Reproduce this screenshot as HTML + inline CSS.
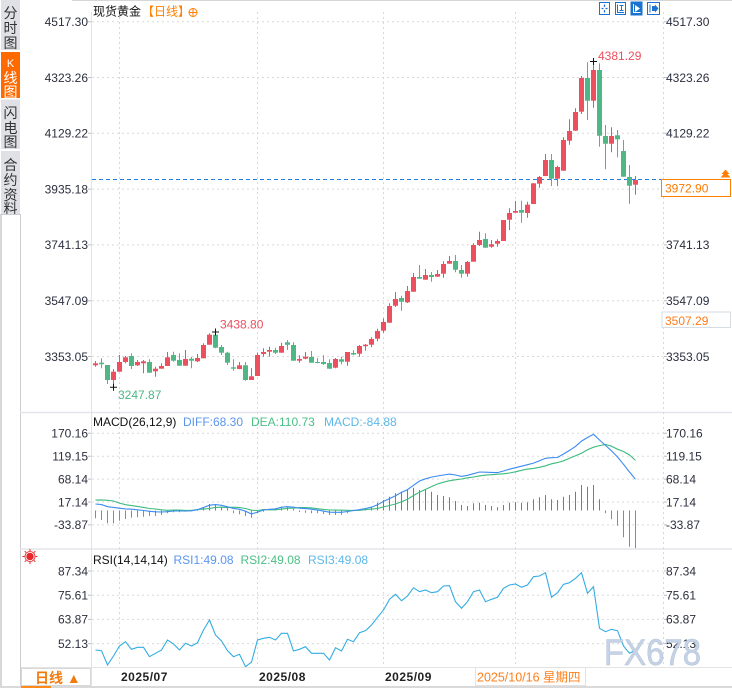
<!DOCTYPE html>
<html><head><meta charset="utf-8"><style>
html,body{margin:0;padding:0;background:#fff;}
body{width:732px;height:688px;overflow:hidden;position:relative;}
svg{position:absolute;left:0;top:0;display:block;}
text{font-family:"Liberation Sans","Noto Sans CJK SC",sans-serif;}
.cj{font-family:"Liberation Sans","Noto Sans CJK SC","WenQuanYi Zen Hei",sans-serif;}
</style></head><body>
<svg width="732" height="688" viewBox="0 0 732 688" xmlns="http://www.w3.org/2000/svg">
<rect x="0" y="0" width="732" height="688" fill="#fff"/>
<line x1="72" y1="0.5" x2="732" y2="0.5" stroke="#d6d6d6"/>
<!-- sidebar -->
<rect x="1" y="0" width="19" height="50" fill="#dfe1e6"/>
<rect x="1" y="52" width="19" height="46" fill="#ff6a00"/>
<rect x="1" y="99.5" width="19" height="49.5" fill="#dfe1e6"/>
<rect x="1" y="151" width="19" height="63" fill="#dfe1e6"/>
<g class="cj" font-size="14" text-anchor="middle" fill="#333">
<text x="10.5" y="18">分</text><text x="10.5" y="33">时</text><text x="10.5" y="48">图</text>
<text x="10.5" y="67" fill="#fff" font-size="11">K</text><text x="10.5" y="83" fill="#fff">线</text><text x="10.5" y="97" fill="#fff">图</text>
<text x="10.5" y="118">闪</text><text x="10.5" y="133">电</text><text x="10.5" y="147">图</text>
<text x="10.5" y="170">合</text><text x="10.5" y="185">约</text><text x="10.5" y="200">资</text><text x="10.5" y="213.5">料</text>
</g>
<rect x="0" y="214" width="2" height="474" fill="#d8d8d8"/>
<line x1="20.5" y1="214" x2="20.5" y2="688" stroke="#cdcdcd"/>
<line x1="0" y1="214.5" x2="21" y2="214.5" stroke="#cdcdcd"/>

<!-- panel separators -->
<line x1="20" y1="412.5" x2="732" y2="412.5" stroke="#e3e6ea" stroke-width="1.5"/>
<line x1="20" y1="549" x2="732" y2="549" stroke="#e3e6ea" stroke-width="1.5"/>

<!-- grid -->
<g stroke="#d9d9d9" stroke-dasharray="2,3" stroke-width="1">
<line x1="92" y1="21.7" x2="663" y2="21.7"/>
<line x1="92" y1="77.5" x2="663" y2="77.5"/>
<line x1="92" y1="133.3" x2="663" y2="133.3"/>
<line x1="92" y1="189.1" x2="663" y2="189.1"/>
<line x1="92" y1="244.9" x2="663" y2="244.9"/>
<line x1="92" y1="300.7" x2="663" y2="300.7"/>
<line x1="92" y1="356.5" x2="663" y2="356.5"/>
<line x1="92" y1="433.3" x2="663" y2="433.3"/>
<line x1="92" y1="456.2" x2="663" y2="456.2"/>
<line x1="92" y1="479.1" x2="663" y2="479.1"/>
<line x1="92" y1="502" x2="663" y2="502"/>
<line x1="92" y1="524.9" x2="663" y2="524.9"/>
<line x1="92" y1="571" x2="663" y2="571"/>
<line x1="92" y1="595.2" x2="663" y2="595.2"/>
<line x1="92" y1="619.4" x2="663" y2="619.4"/>
<line x1="92" y1="643.6" x2="663" y2="643.6"/>
<line x1="119.5" y1="12" x2="119.5" y2="667"/>
<line x1="257.5" y1="12" x2="257.5" y2="667"/>
<line x1="383.5" y1="12" x2="383.5" y2="667"/>
<line x1="515.5" y1="12" x2="515.5" y2="667"/>
<line x1="663.5" y1="12" x2="663.5" y2="667"/>
</g>
<line x1="91.5" y1="12" x2="91.5" y2="688" stroke="#e2e2e2"/>
<g stroke="#bdbdbd">
<path d="M88 21.7H91M88 77.5H91M88 133.3H91M88 189.1H91M88 244.9H91M88 300.7H91M88 356.5H91M88 433.3H91M88 456.2H91M88 479.1H91M88 502H91M88 524.9H91M88 571H91M88 595.2H91M88 619.4H91M88 643.6H91"/>
<path d="M664 21.7H667M664 77.5H667M664 133.3H667M664 244.9H667M664 300.7H667M664 356.5H667M664 433.3H667M664 456.2H667M664 479.1H667M664 502H667M664 524.9H667M664 571H667M664 595.2H667M664 619.4H667M664 643.6H667"/>
</g>

<!-- title -->
<text class="cj" x="93" y="15.5" font-size="12" fill="#111">现货黄金</text>
<text class="cj" x="142" y="15.5" font-size="12" fill="#ff7f00">【日线】</text>
<circle cx="193" cy="12.5" r="4" fill="none" stroke="#ff7f00" stroke-width="1"/>
<path d="M189 12.5H197M193 8.5V16.5" stroke="#ff7f00" stroke-width="1"/>

<!-- top right icons -->
<g stroke="#1a73d0" fill="none" stroke-width="1">
<rect x="599.5" y="2.5" width="10" height="12"/>
<path d="M604.5 4.5V7M604.5 10V12.5M601.5 8.5H603.5M605.5 8.5H607.5" stroke-width="1.2"/>
<rect x="615.5" y="2.5" width="10" height="12"/>
<path d="M617.5 4.5V12.5H624M619.5 5.5H623.5M621.5 5.5V10.5M619.5 10.5H623.5"/>
<rect x="631" y="2" width="11" height="13" fill="#1a73d0"/>
<path d="M633.5 4V12.5H640.5" stroke="#fff"/>
<path d="M635 5L640 8.5L635 12Z" fill="#fff" stroke="none"/>
<rect x="647.5" y="2.5" width="12" height="12"/>
<path d="M650 4.5V12.5"/>
<path d="M652 6H655V4.5L658.5 8.5L655 12.5V11H652Z" fill="#1a73d0" stroke="none"/>
</g>

<!-- left axis labels -->
<g font-size="12" fill="#2c2f3e" text-anchor="end">
<text x="88" y="26">4517.30</text>
<text x="88" y="81.8">4323.26</text>
<text x="88" y="137.6">4129.22</text>
<text x="88" y="193.4">3935.18</text>
<text x="88" y="249.2">3741.13</text>
<text x="88" y="305">3547.09</text>
<text x="88" y="360.8">3353.05</text>
<text x="88" y="437.6">170.16</text>
<text x="88" y="460.5">119.15</text>
<text x="88" y="483.4">68.14</text>
<text x="88" y="506.3">17.14</text>
<text x="88" y="529.2">-33.87</text>
<text x="88" y="575.3">87.34</text>
<text x="88" y="599.5">75.61</text>
<text x="88" y="623.7">63.87</text>
<text x="88" y="647.9">52.13</text>
</g>
<!-- right axis labels -->
<g font-size="12" fill="#2c2f3e">
<text x="666" y="26">4517.30</text>
<text x="666" y="81.8">4323.26</text>
<text x="666" y="137.6">4129.22</text>
<text x="666" y="249.2">3741.13</text>
<text x="666" y="305">3547.09</text>
<text x="666" y="360.8">3353.05</text>
<text x="666" y="437.6">170.16</text>
<text x="666" y="460.5">119.15</text>
<text x="666" y="483.4">68.14</text>
<text x="666" y="506.3">17.14</text>
<text x="666" y="529.2">-33.87</text>
<text x="666" y="575.3">87.34</text>
<text x="666" y="599.5">75.61</text>
<text x="666" y="623.7">63.87</text>
<text x="666" y="647.9">52.13</text>
</g>

<!-- current price line -->
<line x1="92" y1="179.5" x2="662" y2="179.5" stroke="#1f7fe0" stroke-width="1" stroke-dasharray="4,3"/>
<rect x="661.5" y="179.5" width="69" height="17" fill="#fff" stroke="#ff8000"/>
<text x="665" y="192.5" font-size="12" fill="#ff7a00">3972.90</text>
<path d="M720.5 177.5L725.5 172L730.5 177.5Z M721.5 174L725.5 169.5L729.5 174Z" fill="#ff8000"/>
<rect x="662" y="312" width="68.5" height="15.5" fill="#fff" stroke="#d6dce4"/>
<text x="665" y="325" font-size="12" fill="#ff7a1a">3507.29</text>

<!-- candles: wicks -->
<path stroke="#ec4f5e" stroke-width="1" fill="none" d="M95.5 361V366.7M113.5 369V387.3M119.5 355V371.7M125.5 356V363.3M137.5 360V366M143.5 360V373.3M155.5 366.7V376.7M161.5 363.3V368.7M167.5 352V366M185.5 350V365.7M197.5 354V362M203.5 343.3V358.3M209.5 333.3V344.7M239.5 362V369.3M251.5 368.3V380M257.5 352.7V376M263.5 348.3V356.7M269.5 346.7V356.7M281.5 342.7V352.7M299.5 355.3V362.7M305.5 352V359.3M335.5 358V368.3M347.5 352V365.7M359.5 345V356.7M365.5 344V350.7M371.5 337.3V347.3M377.5 328.7V341.3M383.5 318.3V332.7M389.5 303.3V322.7M395.5 292V307M407.5 286V303M413.5 273V291.7M425.5 269V279.7M437.5 270V276.7M443.5 261.3V277.7M449.5 256V263.7M467.5 261V276.7M473.5 243.3V261.7M479.5 231.7V246M491.5 240V247.7M497.5 239.3V246.7M503.5 220V241M509.5 208.3V230M515.5 201V212.7M527.5 201.7V217.7M533.5 183.3V204M539.5 176V187.7M545.5 154V176M557.5 165.7V186M563.5 137.3V170.7M569.5 119.3V144.7M575.5 108.3V130.7M581.5 76V114M593.5 62.3V107.7M611.5 127.3V152.3M635.5 176V194.7"/>
<path stroke="#4fb784" stroke-width="1" fill="none" d="M101.5 358.3V368.3M107.5 365V384M131.5 353.3V369M149.5 359.3V372.7M173.5 351.7V361.7M179.5 353.3V365.7M191.5 356.7V368.3M215.5 332.3V348.3M221.5 345V355M227.5 351.7V365M233.5 359.3V370.7M245.5 362V380.7M275.5 347.7V354M287.5 340V350M293.5 342.3V360.7M311.5 351V362.7M317.5 358V363.3M323.5 355.3V365M329.5 359.3V368.7M341.5 356.7V364.3M353.5 350.3V355.3M401.5 295.7V310.7M419.5 265V278.7M431.5 272V281.7M455.5 255V272.3M461.5 265V277.7M485.5 233.3V247.7M521.5 200.7V222.7M551.5 154V186M587.5 62.3V120M599.5 63.3V146.7M605.5 125V169.3M617.5 130V157.3M623.5 140V176.7M629.5 165V203.7"/>
<!-- candles: bodies -->
<g fill="#ec4f5e">
<rect x="93" y="363.3" width="5" height="2"/>
<rect x="111" y="371.7" width="5" height="8.3"/>
<rect x="117" y="362" width="5" height="9.7"/>
<rect x="123" y="357.3" width="5" height="4.7"/>
<rect x="135" y="362" width="5" height="3.3"/>
<rect x="141" y="361.3" width="5" height="2"/>
<rect x="153" y="368.7" width="5" height="2.6"/>
<rect x="159" y="366" width="5" height="2.7"/>
<rect x="165" y="357.3" width="5" height="8.7"/>
<rect x="183" y="359" width="5" height="6.7"/>
<rect x="195" y="358" width="5" height="3.3"/>
<rect x="201" y="345" width="5" height="13.3"/>
<rect x="207" y="334.7" width="5" height="10"/>
<rect x="237" y="365.3" width="5" height="3.7"/>
<rect x="249" y="376.3" width="5" height="3.7"/>
<rect x="255" y="355" width="5" height="21"/>
<rect x="261" y="352" width="5" height="2"/>
<rect x="267" y="350" width="5" height="1.7"/>
<rect x="279" y="346" width="5" height="6.7"/>
<rect x="297" y="359" width="5" height="1.7"/>
<rect x="303" y="356.7" width="5" height="2"/>
<rect x="333" y="359" width="5" height="8.7"/>
<rect x="345" y="352" width="5" height="9.7"/>
<rect x="357" y="346" width="5" height="7.7"/>
<rect x="363" y="344.7" width="5" height="1.5"/>
<rect x="369" y="339" width="5" height="5.7"/>
<rect x="375" y="331" width="5" height="7.7"/>
<rect x="381" y="322" width="5" height="8.7"/>
<rect x="387" y="306" width="5" height="16.7"/>
<rect x="393" y="299" width="5" height="6.7"/>
<rect x="405" y="291" width="5" height="11.3"/>
<rect x="411" y="277" width="5" height="14.7"/>
<rect x="423" y="275" width="5" height="4.7"/>
<rect x="435" y="274" width="5" height="2.7"/>
<rect x="441" y="264" width="5" height="9.7"/>
<rect x="447" y="261" width="5" height="2.7"/>
<rect x="465" y="262" width="5" height="11.7"/>
<rect x="471" y="245" width="5" height="16.7"/>
<rect x="477" y="240" width="5" height="5"/>
<rect x="489" y="244.3" width="5" height="2.4"/>
<rect x="495" y="241" width="5" height="2.7"/>
<rect x="501" y="220" width="5" height="21"/>
<rect x="507" y="213" width="5" height="6.7"/>
<rect x="513" y="211" width="5" height="1.7"/>
<rect x="525" y="204.7" width="5" height="8.3"/>
<rect x="531" y="183.3" width="5" height="20.7"/>
<rect x="537" y="177" width="5" height="6.7"/>
<rect x="543" y="160" width="5" height="16"/>
<rect x="555" y="167" width="5" height="11.7"/>
<rect x="561" y="140" width="5" height="30.7"/>
<rect x="567" y="131" width="5" height="9.7"/>
<rect x="573" y="112" width="5" height="18.7"/>
<rect x="579" y="78" width="5" height="33.7"/>
<rect x="591" y="70" width="5" height="30.7"/>
<rect x="609" y="136" width="5" height="7.7"/>
<rect x="633" y="180" width="5" height="4.7"/>
</g>
<g fill="#4fb784">
<rect x="99" y="362.7" width="5" height="1.5"/>
<rect x="105" y="365" width="5" height="15"/>
<rect x="129" y="356" width="5" height="10"/>
<rect x="147" y="362" width="5" height="10.7"/>
<rect x="171" y="355" width="5" height="5.7"/>
<rect x="177" y="360" width="5" height="5.7"/>
<rect x="189" y="358.7" width="5" height="2"/>
<rect x="213" y="334.7" width="5" height="13"/>
<rect x="219" y="347" width="5" height="5.7"/>
<rect x="225" y="352.7" width="5" height="10"/>
<rect x="231" y="367.3" width="5" height="1.4"/>
<rect x="243" y="365.3" width="5" height="14.7"/>
<rect x="273" y="350" width="5" height="2.7"/>
<rect x="285" y="342.3" width="5" height="2.5"/>
<rect x="291" y="345" width="5" height="15.7"/>
<rect x="309" y="357" width="5" height="5.7"/>
<rect x="315" y="362" width="5" height="1"/>
<rect x="321" y="362" width="5" height="2"/>
<rect x="327" y="363" width="5" height="5.7"/>
<rect x="339" y="359.3" width="5" height="2.4"/>
<rect x="351" y="353" width="5" height="1.5"/>
<rect x="399" y="298" width="5" height="3.7"/>
<rect x="417" y="277" width="5" height="1.7"/>
<rect x="429" y="275" width="5" height="2"/>
<rect x="453" y="261" width="5" height="8.7"/>
<rect x="459" y="270" width="5" height="3.7"/>
<rect x="483" y="239" width="5" height="8.7"/>
<rect x="519" y="210" width="5" height="2.7"/>
<rect x="549" y="160" width="5" height="18.7"/>
<rect x="585" y="78" width="5" height="22.7"/>
<rect x="597" y="70" width="5" height="65.7"/>
<rect x="603" y="136" width="5" height="7.7"/>
<rect x="615" y="135.3" width="5" height="4"/>
<rect x="621" y="151" width="5" height="25.7"/>
<rect x="627" y="177" width="5" height="8.7"/>
</g>

<!-- high/low markers -->
<path d="M590 61.5H597M593.5 58V65M212 332H219M215.5 328.5V335.5M110 387.3H117M113.5 383.8V390.8" stroke="#111" stroke-width="1"/>
<text x="598" y="60" font-size="12" fill="#ec4f5e">4381.29</text>
<text x="220" y="328.5" font-size="12" fill="#ec4f5e">3438.80</text>
<text x="118" y="399" font-size="12" fill="#4fb784">3247.87</text>

<!-- MACD -->
<text x="93" y="426" font-size="12" fill="#111">MACD(26,12,9)</text>
<text x="183" y="426" font-size="12" fill="#5a95ef">DIFF:68.30</text>
<text x="251" y="426" font-size="12" fill="#4cc086">DEA:110.73</text>
<text x="324" y="426" font-size="12" fill="#5db7ea">MACD:-84.88</text>
<path stroke="#4aad7c" stroke-width="1" fill="none" d="M95.5 510.5V518.3M101.5 510.5V520M107.5 510.5V523.3M113.5 510.5V523.3M119.5 510.5V520.7M125.5 510.5V519M131.5 510.5V517.7M137.5 510.5V517.3M143.5 510.5V516.7M149.5 510.5V516M155.5 510.5V516M161.5 510.5V515M167.5 510.5V513.3M173.5 510.5V512.3M179.5 510.5V512.3M185.5 510.5V511.7M191.5 510.5V511.3M197.5 510.5V511M233.5 510.5V513.3M239.5 510.5V514.3M245.5 510.5V516M251.5 510.5V517.7M257.5 510.5V513.3M263.5 510.5V511.7M299.5 510.5V512M305.5 510.5V512.7M311.5 510.5V513.3M317.5 510.5V513.3M323.5 510.5V514M329.5 510.5V515M335.5 510.5V515M341.5 510.5V514.7M347.5 510.5V513.3M605.5 510.5V513.3M611.5 510.5V519.3M617.5 510.5V525.7M623.5 510.5V537.3M629.5 510.5V546.7M635.5 510.5V548.3"/>
<path stroke="#e24d5b" stroke-width="1" fill="none" d="M203.5 510.5V507.3M209.5 510.5V504M215.5 510.5V505M221.5 510.5V506.7M227.5 510.5V508.3M269.5 510.5V509.3M275.5 510.5V508.3M281.5 510.5V506.7M287.5 510.5V507.3M293.5 510.5V508.7M353.5 510.5V509.6M359.5 510.5V509.3M365.5 510.5V508.3M371.5 510.5V506.7M377.5 510.5V502.7M383.5 510.5V500M389.5 510.5V496.7M395.5 510.5V493.3M401.5 510.5V491.7M407.5 510.5V489.3M413.5 510.5V487.7M419.5 510.5V490M425.5 510.5V489M431.5 510.5V491.7M437.5 510.5V495M443.5 510.5V496M449.5 510.5V497.3M455.5 510.5V501M461.5 510.5V505M467.5 510.5V506M473.5 510.5V503.3M479.5 510.5V502.7M485.5 510.5V505M491.5 510.5V506M497.5 510.5V507.3M503.5 510.5V505M509.5 510.5V502.7M515.5 510.5V502M521.5 510.5V502.7M527.5 510.5V502.3M533.5 510.5V499.3M539.5 510.5V497.3M545.5 510.5V495M551.5 510.5V499.3M557.5 510.5V500M563.5 510.5V496.7M569.5 510.5V495M575.5 510.5V491.7M581.5 510.5V485M587.5 510.5V486.7M593.5 510.5V485M599.5 510.5V499.3"/>
<polyline fill="none" stroke="#3dbb7e" stroke-width="1.1" points="95.5,500.1 101.5,499.9 107.5,500.3 113.5,501 119.5,503.1 125.5,504.7 131.5,505.6 137.5,506.4 143.5,507.4 149.5,508.5 155.5,509 161.5,509.8 167.5,510.3 173.5,510.1 179.5,510.1 185.5,510.4 191.5,510.4 197.5,509.5 203.5,509.1 209.5,508.5 215.5,507.4 221.5,507.2 227.5,507.6 233.5,507.2 239.5,507.6 245.5,508.5 251.5,510.2 257.5,510.5 263.5,509.6 269.5,509.8 275.5,509.8 281.5,509.1 287.5,508.3 293.5,508.1 299.5,507.6 305.5,507.6 311.5,507.9 317.5,508.7 323.5,509.4 329.5,510 335.5,510.1 341.5,510.2 347.5,510.3 353.5,510.6 359.5,510.3 365.5,509.6 371.5,509.1 377.5,508.5 383.5,506.9 389.5,505.5 395.5,504 401.5,501.8 407.5,499.3 413.5,495.5 419.5,492.2 425.5,489.4 431.5,486.6 437.5,484 443.5,482.2 449.5,480.7 455.5,479.8 461.5,479 467.5,477.8 473.5,477 479.5,475.9 485.5,475.1 491.5,474.7 497.5,474.2 503.5,473.8 509.5,473 515.5,471.8 521.5,470.3 527.5,469.1 533.5,468.4 539.5,467.3 545.5,465.8 551.5,463.8 557.5,462.6 563.5,460.8 569.5,458.3 575.5,455.8 581.5,453.2 587.5,449.8 593.5,447.2 599.5,445.6 605.5,444.5 611.5,446.2 617.5,449.2 623.5,451.5 629.5,455 635.5,460.4"/>
<polyline fill="none" stroke="#3b8cf2" stroke-width="1.1" points="95.5,504 101.5,504.6 107.5,506.7 113.5,507.4 119.5,508.2 125.5,508.9 131.5,509.2 137.5,509.8 143.5,510.5 149.5,511.3 155.5,511.8 161.5,512 167.5,511.7 173.5,511 179.5,511 185.5,511 191.5,510.8 197.5,509.7 203.5,507.5 209.5,505.2 215.5,504.6 221.5,505.3 227.5,506.8 233.5,508.4 239.5,509.3 245.5,511.2 251.5,514 257.5,512.1 263.5,510 269.5,509.3 275.5,508.9 281.5,507.2 287.5,506.7 293.5,507.2 299.5,508.2 305.5,508.6 311.5,509.2 317.5,510.1 323.5,511.1 329.5,512.2 335.5,512.3 341.5,512.3 347.5,511.5 353.5,510.5 359.5,509.7 365.5,508.5 371.5,507.2 377.5,504.8 383.5,501.4 389.5,498.6 395.5,495.7 401.5,492.4 407.5,489.6 413.5,485.3 419.5,481 425.5,478.8 431.5,477.1 437.5,476 443.5,475 449.5,474.1 455.5,475 461.5,476.4 467.5,475.3 473.5,473.7 479.5,472 485.5,472.2 491.5,472.4 497.5,472.6 503.5,471 509.5,469.2 515.5,467.7 521.5,466.2 527.5,464.7 533.5,463.1 539.5,460.8 545.5,458.3 551.5,457.7 557.5,457.5 563.5,454 569.5,450.4 575.5,446.4 581.5,441.1 587.5,437.5 593.5,434.3 599.5,440 605.5,445.4 611.5,450.8 617.5,457 623.5,464.3 629.5,472 635.5,479.3"/>

<!-- RSI -->
<g stroke="#e8262b" stroke-width="1" fill="none">
<circle cx="30" cy="556.5" r="3.2" fill="#e8262b"/>
<circle cx="30" cy="556.5" r="5" stroke-width="0.8"/>
<path d="M30 549V551M30 562V564M22.5 556.5H24.5M35.5 556.5H37.5M24.7 551.2L26 552.5M34 560.5L35.3 561.8M35.3 551.2L34 552.5M26 560.5L24.7 561.8"/>
</g>
<text x="93" y="564" font-size="12" fill="#111">RSI(14,14,14)</text>
<text x="173.5" y="564" font-size="12" fill="#5a95ef">RSI1:49.08</text>
<text x="240.5" y="564" font-size="12" fill="#4cc086">RSI2:49.08</text>
<text x="308" y="564" font-size="12" fill="#5db7ea">RSI3:49.08</text>
<polyline fill="none" stroke="#33ace3" stroke-width="1.1" points="95.5,650 101.5,650.7 107.5,665 113.5,656 119.5,646 125.5,641.7 131.5,649.3 137.5,647.3 143.5,647.3 149.5,656.7 155.5,653.3 161.5,650 167.5,640 173.5,644 179.5,650 185.5,643.3 191.5,646 197.5,642.7 203.5,630 209.5,620 215.5,635 221.5,641 227.5,650.7 233.5,656.7 239.5,654.3 245.5,666.7 251.5,662 257.5,640 263.5,638.3 269.5,637.3 275.5,640 281.5,633.3 287.5,633.3 293.5,651 299.5,649.3 305.5,646.7 311.5,653.3 317.5,653.3 323.5,653.3 329.5,660 335.5,647.7 341.5,651 347.5,639.3 353.5,641.7 359.5,632.7 365.5,630.7 371.5,625 377.5,617.3 383.5,610 389.5,599.3 395.5,594.3 401.5,600.7 407.5,596 413.5,587.7 419.5,591.7 425.5,590 431.5,592.7 437.5,591.7 443.5,586 449.5,585.7 455.5,601.7 461.5,608.3 467.5,601.7 473.5,591.7 479.5,590 485.5,601.7 491.5,599.3 497.5,597.3 503.5,588.3 509.5,585 515.5,584 521.5,587.3 527.5,585 533.5,576.7 539.5,576 545.5,572.7 551.5,597.3 557.5,592.7 563.5,584.3 569.5,582.7 575.5,578.3 581.5,572.7 587.5,593.3 593.5,586.7 599.5,628.3 605.5,631.7 611.5,629.3 617.5,630.7 623.5,646 629.5,653.3 635.5,650"/>

<!-- watermark -->
<text x="604" y="665" font-size="37" fill="#c6d3e6" stroke="#b4c3d8" stroke-width="0.6" textLength="97" lengthAdjust="spacingAndGlyphs">FX678</text>

<!-- date bar -->
<rect x="21" y="668" width="711" height="18" fill="#fff"/>
<line x1="21" y1="667.5" x2="732" y2="667.5" stroke="#e3e3e3"/>
<line x1="91.5" y1="668" x2="91.5" y2="688" stroke="#e2e2e2"/>
<rect x="0" y="686" width="732" height="2" fill="#d9d9d9"/>
<rect x="21.5" y="668.5" width="69" height="17" fill="#fff" stroke="#d8d8d8"/>
<text class="cj" x="35" y="683" font-size="14" font-weight="bold" fill="#f27b0f">日线 ▲</text>
<rect x="21" y="686" width="30" height="2" fill="#ff8a1a"/>
<g font-size="12" font-weight="bold" fill="#222" letter-spacing="0.5">
<text x="121" y="681">2025/07</text>
<text x="259" y="681">2025/08</text>
<text x="385" y="681">2025/09</text>
</g>
<rect x="475.5" y="667.5" width="110" height="18" fill="#fff" stroke="#e2e2e2"/>
<text class="cj" x="477" y="681.5" font-size="12.5" fill="#ff7f1a">2025/10/16 星期四</text>
</svg>
</body></html>
